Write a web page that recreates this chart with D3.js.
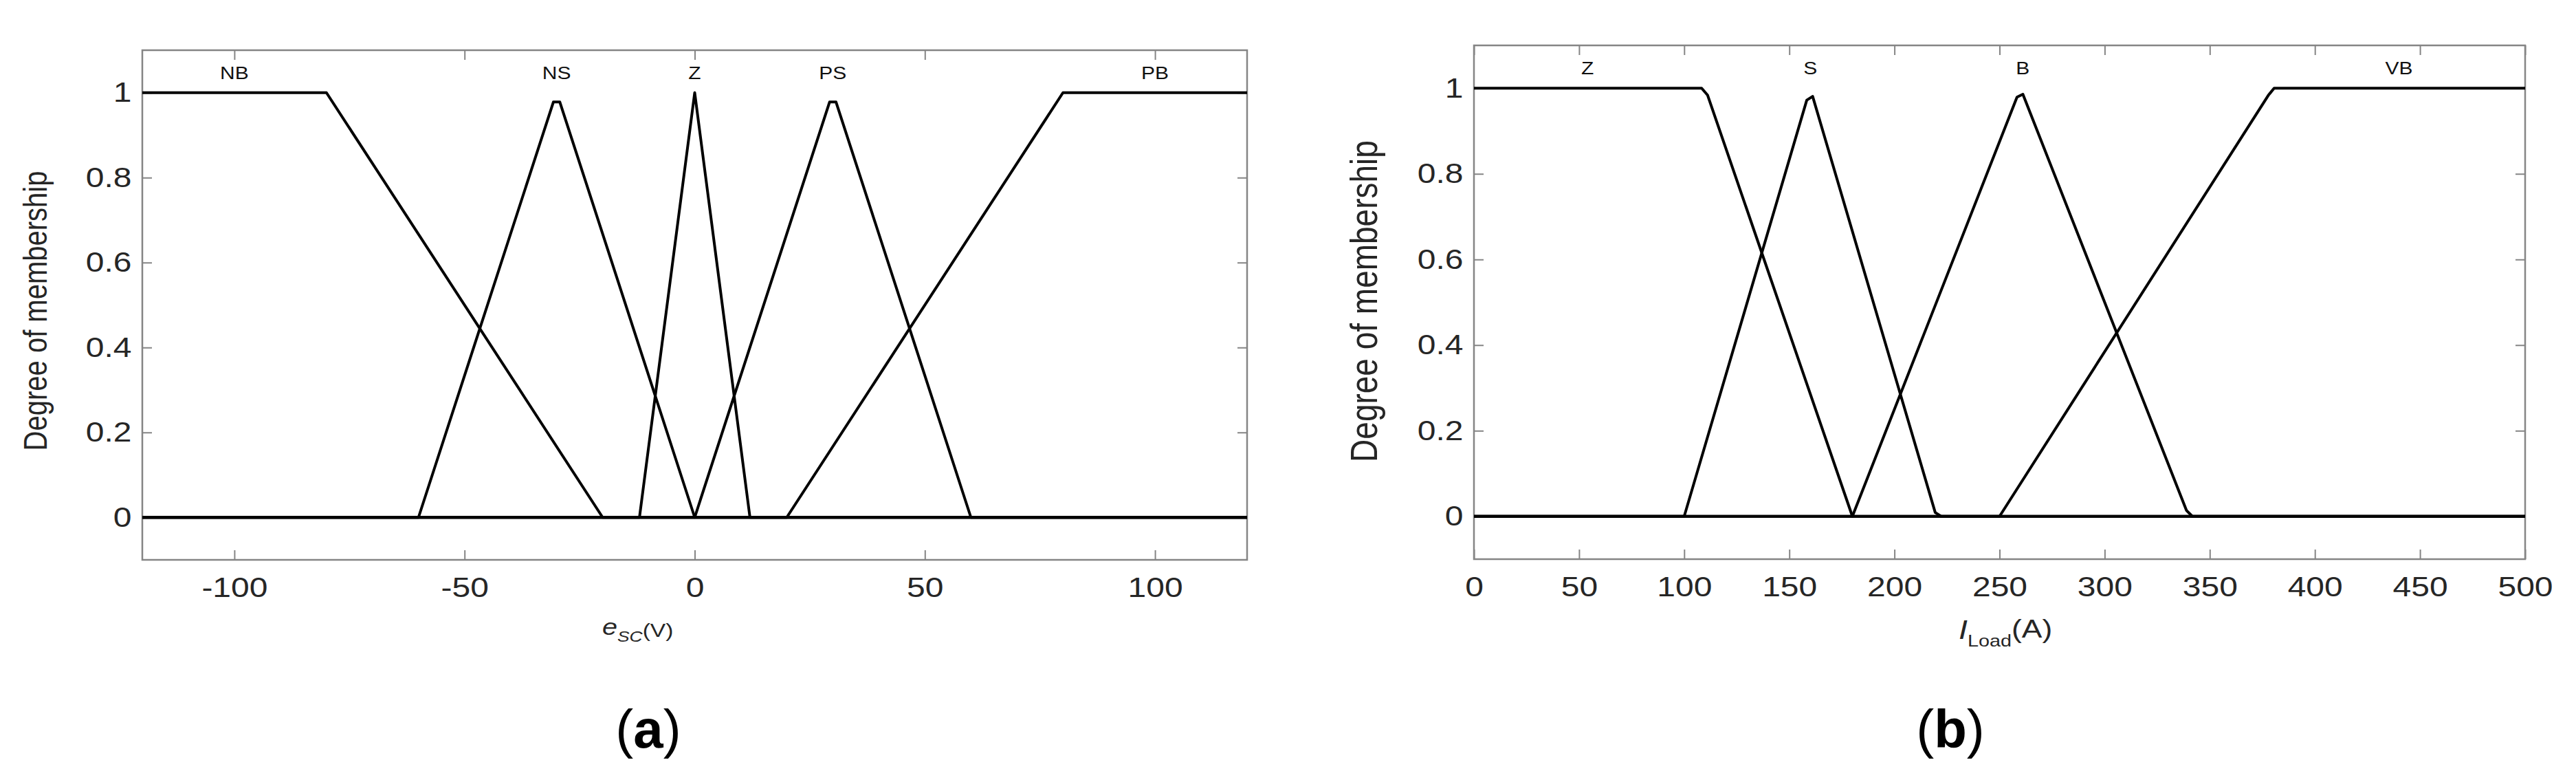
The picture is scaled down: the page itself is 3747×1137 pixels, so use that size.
<!DOCTYPE html>
<html>
<head>
<meta charset="utf-8">
<script src="https://cdn.jsdelivr.net/npm/d3@7"></script>
<style>
  body { margin: 0; background: #fff; }
  svg { display: block; }
  text { font-family: "Liberation Sans", Arial, sans-serif; }
</style>
</head>
<body>
<svg id="chart"></svg>
<script>
var WIDTH = 3747, HEIGHT = 1137;
var TICK_LEN = 14;
var STRETCH = 1.2;          // the original figure is a bit wider than tall
var AXIS_COLOR = "#858585";
var LABEL_COLOR = "#262626";

// y axis, shared by both panels
var yDomain = [-0.1, 1.1];
var yTicks = [0, 0.2, 0.4, 0.6, 0.8, 1];

// panel (a): e_SC (V)
var escDomain = [-120, 120];
var escTicks = [-100, -50, 0, 50, 100];
var escNames = ["NB", "NS", "Z", "PS", "PB"];
var escNameX = [-100, -30, 0, 30, 100];
var escNB = [[-120, 1], [-80, 1], [-20, 0], [120, 0]];
var escNS = [[-120, 0], [-60, 0], [-30.7, 0.978], [-29.3, 0.978], [0, 0], [120, 0]];
var escZ  = [[-120, 0], [-12, 0], [0, 1], [12, 0], [120, 0]];
var escPS = [[-120, 0], [0, 0], [29.3, 0.978], [30.7, 0.978], [60, 0], [120, 0]];
var escPB = [[-120, 0], [20, 0], [80, 1], [120, 1]];

// panel (b): I_Load (A)
var loadDomain = [0, 500];
var loadTicks = [0, 50, 100, 150, 200, 250, 300, 350, 400, 450, 500];
var loadNames = ["Z", "S", "B", "VB"];
var loadNameX = [54, 160, 261, 440];
var loadZ  = [[0, 1], [108.3, 1], [111.1, 0.984], [180, 0], [500, 0]];
var loadS  = [[0, 0], [100, 0], [158.3, 0.972], [161.1, 0.981], [219.4, 0.009], [222.2, 0], [500, 0]];
var loadB  = [[0, 0], [180, 0], [258.3, 0.979], [261.1, 0.986], [338.9, 0.014], [341.7, 0], [500, 0]];
var loadVB = [[0, 0], [250, 0], [377.8, 0.983], [380.6, 1], [500, 1]];

var svg = d3.select("#chart")
    .attr("width", WIDTH)
    .attr("height", HEIGHT);

svg.append("rect")
    .attr("width", WIDTH)
    .attr("height", HEIGHT)
    .attr("fill", "#fff");

var panels = [
    {
        left: 207, right: 1814, top: 73, bottom: 814,
        xDomain: escDomain, xTicks: escTicks,
        mfs: [escNB, escNS, escZ, escPS, escPB],
        names: escNames, nameX: escNameX, nameY: 115,
        yLabelX: 68, yLabelY: 452, yLabelSize: 40,
        xLabelX: 876, xLabelY: 923,
        xLabel: [
            { t: "e", size: 33, italic: true, dy: 0 },
            { t: "SC", size: 22, italic: true, dy: 10 },
            { t: "(V)", size: 28, italic: false, dy: -7 }
        ],
        tag: "a", tagX: 943
    },
    {
        left: 2144, right: 3673, top: 66, bottom: 813,
        xDomain: loadDomain, xTicks: loadTicks,
        mfs: [loadZ, loadS, loadB, loadVB],
        names: loadNames, nameX: loadNameX, nameY: 108,
        yLabelX: 2003, yLabelY: 438, yLabelSize: 46,
        xLabelX: 2849, xLabelY: 929,
        xLabel: [
            { t: "I", size: 39, italic: true, dy: 0 },
            { t: "Load", size: 24, italic: false, dy: 11 },
            { t: "(A)", size: 37, italic: false, dy: -13 }
        ],
        tag: "b", tagX: 2837
    }
];

panels.forEach(drawPanel);

function stretched(x, y)
{
    return "translate(" + x + "," + y + ") scale(" + STRETCH + ",1)";
}

function styleAxis(g, keepText)
{
    g.select(".domain").remove();
    g.selectAll(".tick line")
        .attr("stroke", AXIS_COLOR)
        .attr("stroke-width", 2);
    if (!keepText)
    {
        g.selectAll(".tick text").remove();
        return;
    }
    g.selectAll(".tick text")
        .attr("font-size", 40)
        .attr("fill", LABEL_COLOR)
        .attr("font-family", "Liberation Sans, Arial, sans-serif")
        .attr("transform", "scale(" + STRETCH + ",1)");
}

function drawPanel(p)
{
    var x = d3.scaleLinear().domain(p.xDomain).range([p.left, p.right]);
    var y = d3.scaleLinear().domain(yDomain).range([p.bottom, p.top]);

    var g = svg.append("g");

    // ticks, all pointing into the box
    g.append("g")
        .attr("transform", "translate(0," + p.bottom + ")")
        .call(d3.axisBottom(x).tickValues(p.xTicks).tickSize(-TICK_LEN)
              .tickPadding(26).tickFormat(function(d) { return String(d); }))
        .call(styleAxis, true);

    g.append("g")
        .attr("transform", "translate(0," + p.top + ")")
        .call(d3.axisTop(x).tickValues(p.xTicks).tickSize(-TICK_LEN))
        .call(styleAxis, false);

    g.append("g")
        .attr("transform", "translate(" + p.left + ",0)")
        .call(d3.axisLeft(y).tickValues(yTicks).tickSize(-TICK_LEN)
              .tickPadding(13).tickFormat(function(d) { return String(d); }))
        .call(styleAxis, true);

    g.append("g")
        .attr("transform", "translate(" + p.right + ",0)")
        .call(d3.axisRight(y).tickValues(yTicks).tickSize(-TICK_LEN))
        .call(styleAxis, false);

    // box
    g.append("rect")
        .attr("x", x(p.xDomain[0]))
        .attr("y", y(yDomain[1]))
        .attr("width", x(p.xDomain[1]) - x(p.xDomain[0]))
        .attr("height", y(yDomain[0]) - y(yDomain[1]))
        .attr("fill", "none")
        .attr("stroke", AXIS_COLOR)
        .attr("stroke-width", 2.5);

    // membership functions
    var line = d3.line()
        .x(function(d) { return x(d[0]); })
        .y(function(d) { return y(d[1]); });

    g.append("g")
        .selectAll("path")
        .data(p.mfs)
        .enter().append("path")
        .attr("d", line)
        .attr("fill", "none")
        .attr("stroke", "#000")
        .attr("stroke-width", 4)
        .attr("stroke-linejoin", "round");

    // set names along the top
    g.append("g")
        .selectAll("text")
        .data(p.names)
        .enter().append("text")
        .attr("transform", function(d, i) { return stretched(x(p.nameX[i]), p.nameY); })
        .attr("text-anchor", "middle")
        .attr("font-size", 25)
        .attr("fill", "#111")
        .text(function(d) { return d; });

    // y label
    g.append("text")
        .attr("transform", stretched(p.yLabelX, p.yLabelY) + " rotate(-90)")
        .attr("text-anchor", "middle")
        .attr("font-size", p.yLabelSize)
        .attr("fill", LABEL_COLOR)
        .text("Degree of membership");

    // x label with subscript
    var xl = g.append("text")
        .attr("transform", stretched(p.xLabelX, p.xLabelY))
        .attr("fill", LABEL_COLOR);
    p.xLabel.forEach(function(part)
    {
        xl.append("tspan")
            .attr("font-size", part.size)
            .attr("font-style", part.italic ? "italic" : "normal")
            .attr("dy", part.dy)
            .text(part.t);
    });

    // panel tag, (a) / (b)
    var tag = g.append("text")
        .attr("x", p.tagX)
        .attr("y", 1087)
        .attr("text-anchor", "middle")
        .attr("font-family", "Liberation Serif, serif")
        .attr("font-size", 78)
        .attr("fill", "#000");
    tag.append("tspan").text("(");
    tag.append("tspan").attr("font-weight", "bold").text(p.tag);
    tag.append("tspan").text(")");
}
</script>
</body>
</html>
